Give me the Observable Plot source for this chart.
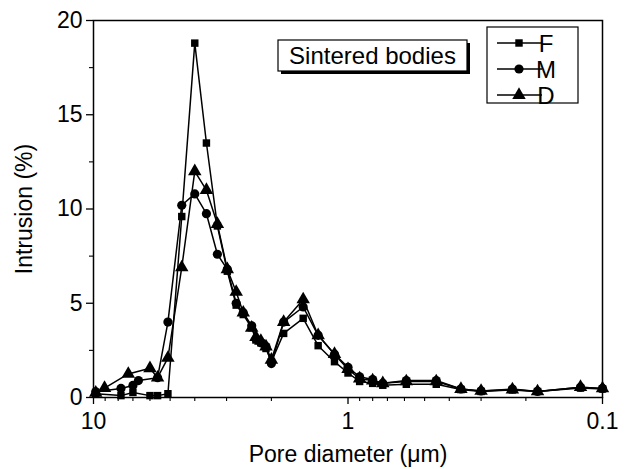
<!DOCTYPE html>
<html>
<head>
<meta charset="utf-8">
<script src="https://cdn.jsdelivr.net/npm/d3@7"></script>
<script src="https://cdn.jsdelivr.net/npm/@observablehq/plot@0.6"></script>
<style>
  html, body { margin: 0; padding: 0; background: #fff; }
  #chart svg { display: block; }
</style>
</head>
<body>
<div id="chart"></div>
<script>
// Pore diameter (µm) at each intrusion step, shared by the three samples
const diameter = [9.8, 9.05, 7.8, 7.3, 7.0, 6.66, 6.0, 5.6, 5.1, 4.5, 4.0, 3.6, 3.26, 2.98, 2.75, 2.58, 2.39, 2.3, 2.2, 2.1, 2.0, 1.79, 1.50, 1.31, 1.13, 1.0, 0.90, 0.80, 0.73, 0.59, 0.45, 0.36, 0.30, 0.226, 0.18, 0.122, 0.10];

// Intrusion (%) per sample; null where a sample has no reading
const seriesF = [0.2, null, 0.1, null, 0.27, null, 0.1, 0.1, 0.2, 9.6, 18.8, 13.5, 9.1, 6.7, 4.9, 4.4, 3.7, 3.05, 2.9, 2.6, 1.9, 3.4, 4.2, 2.75, 1.9, 1.3, 0.85, 0.75, 0.65, 0.7, 0.7, 0.42, 0.32, 0.4, 0.32, 0.5, 0.45];
const seriesM = [0.3, null, 0.48, null, 0.64, 0.9, null, 1.05, 4.0, 10.2, 10.8, 9.75, 7.6, 6.8, 5.0, 4.5, 3.8, 3.1, 2.9, 2.7, 1.8, 4.0, 4.8, 3.3, 2.3, 1.6, 1.1, 0.95, 0.75, 0.9, 0.9, 0.45, 0.35, 0.45, 0.32, 0.55, 0.48];
const seriesD = [0.25, 0.5, null, 1.25, null, null, 1.55, 1.05, 2.1, 6.9, 12.0, 11.0, 9.2, 6.8, 5.6, 4.5, 3.7, 3.2, 3.0, 2.7, 2.0, 4.0, 5.2, 3.3, 2.3, 1.5, 1.0, 0.9, 0.75, 0.85, 0.85, 0.45, 0.35, 0.42, 0.32, 0.55, 0.48];

const seriesNames = ["F", "M", "D"];
const seriesSymbols = ["square", "circle", "triangle"];

// Axis ticks
const xMajorTicks = [10, 1, 0.1];
const xMinorTicks = [9, 8, 7, 6, 5, 4, 3, 2, 0.9, 0.8, 0.7, 0.6, 0.5, 0.4, 0.3, 0.2];
const yMajorTicks = [0, 5, 10, 15, 20];
const yMinorTicks = [2.5, 7.5, 12.5, 17.5];

const boxLabel = "Sintered bodies";
const xLabel = "Pore diameter (μm)";
const yLabel = "Intrusion (%)";

const allSeries = [seriesF, seriesM, seriesD];
const rows = [];
allSeries.forEach((vals, s) => {
  vals.forEach((v, i) => {
    if (v != null) rows.push({ sample: seriesNames[s], d: diameter[i], v });
  });
});

const font = "'Liberation Sans', Arial, Helvetica, sans-serif";
const symbolR = { square: 4.2, circle: 4.6, triangle: 5.0 };

const marks = [
  Plot.frame({ stroke: "black", strokeWidth: 1.5 }),
  Plot.axisX({ ticks: xMajorTicks, tickSize: 7, tickPadding: 8, tickFormat: d => String(d),
               label: xLabel, labelAnchor: "center", labelArrow: "none", labelOffset: 64, strokeWidth: 1.3 }),
  Plot.axisX({ ticks: xMinorTicks, tickSize: 4, tickFormat: () => "", label: null, strokeWidth: 1.1 }),
  Plot.axisY({ ticks: yMajorTicks, tickSize: 7, tickPadding: 4,
               label: yLabel, labelAnchor: "center", labelArrow: "none", labelOffset: 78, strokeWidth: 1.3 }),
  Plot.axisY({ ticks: yMinorTicks, tickSize: 4, tickFormat: () => "", label: null, strokeWidth: 1.1 })
];

seriesNames.forEach((name, s) => {
  const data = rows.filter(r => r.sample === name);
  marks.push(Plot.line(data, { x: "d", y: "v", stroke: "black", strokeWidth: 1.5 }));
  marks.push(Plot.dot(data, { x: "d", y: "v", symbol: () => seriesSymbols[s], fill: "black", stroke: "none",
                               r: symbolR[seriesSymbols[s]] }));
});

const chart = Plot.plot({
  width: 632,
  height: 469,
  marginLeft: 93,
  marginRight: 30,
  marginTop: 20,
  marginBottom: 72,
  style: { fontFamily: font, fontSize: "23px", color: "black", background: "white", overflow: "visible" },
  x: { type: "log", domain: [10, 0.1] },
  y: { domain: [0, 20] },
  symbol: { domain: seriesSymbols, range: seriesSymbols },
  marks
});

// Annotation boxes: the "Sintered bodies" tag and the series key
const svg = d3.select(chart);
const g = svg.append("g").attr("font-family", font);

// tag with drop shadow
const tag = { x: 278, y: 40, w: 189, h: 31 };
g.append("rect").attr("x", tag.x + 3).attr("y", tag.y + 3).attr("width", tag.w).attr("height", tag.h).attr("fill", "black");
g.append("rect").attr("x", tag.x).attr("y", tag.y).attr("width", tag.w).attr("height", tag.h)
  .attr("fill", "white").attr("stroke", "black").attr("stroke-width", 1.2);
g.append("text").attr("x", tag.x + tag.w / 2).attr("y", tag.y + tag.h / 2).attr("dy", "0.36em")
  .attr("text-anchor", "middle").attr("font-size", 24).text(boxLabel);

// key
const key = { x: 487, y: 27, w: 91, h: 76 };
g.append("rect").attr("x", key.x).attr("y", key.y).attr("width", key.w).attr("height", key.h)
  .attr("fill", "white").attr("stroke", "black").attr("stroke-width", 1.2);
seriesNames.forEach((name, s) => {
  const cy = key.y + 16 + s * 26;
  g.append("line").attr("x1", key.x + 10).attr("x2", key.x + 55).attr("y1", cy).attr("y2", cy)
    .attr("stroke", "black").attr("stroke-width", 1.5);
  const sym = seriesSymbols[s];
  const r = symbolR[sym];
  const shape = { square: d3.symbolSquare, circle: d3.symbolCircle, triangle: d3.symbolTriangle }[sym];
  g.append("path").attr("d", d3.symbol(shape, Math.PI * r * r)())
    .attr("transform", `translate(${key.x + 32},${cy})`).attr("fill", "black");
  g.append("text").attr("x", key.x + 59).attr("y", cy).attr("dy", "0.36em")
    .attr("font-size", 24).text(name);
});

document.getElementById("chart").appendChild(chart);
</script>
</body>
</html>
